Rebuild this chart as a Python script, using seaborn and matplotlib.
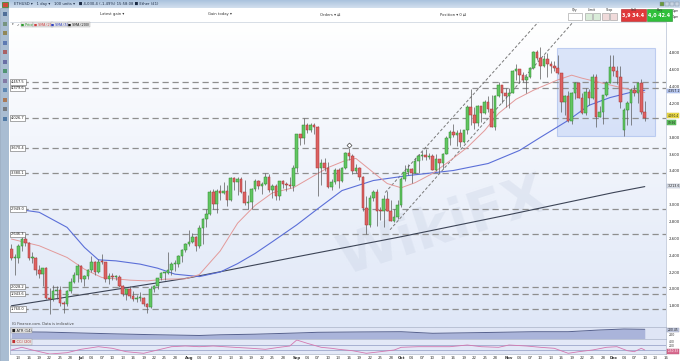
import numpy as np
import pandas as pd
import matplotlib
matplotlib.use("Agg")
import matplotlib.pyplot as plt
import seaborn as sns
from matplotlib.patches import Rectangle
from matplotlib.colors import LinearSegmentedColormap

# ---------------- data (ETH/USD daily, 11 Jun - 10 Dec 2021) ----------------
# (open, high, low, close)
ohlc_jun = [(2470,2530,2340,2370),(2370,2410,2160,2370),(2370,2530,2310,2510),(2510,2610,2450,2590),
            (2590,2640,2510,2550),(2550,2560,2340,2370),(2370,2440,2310,2370),(2370,2380,2170,2230),
            (2230,2280,2130,2180),(2180,2250,2040,2250),(2250,2260,1880,1890),(1890,2010,1700,1875),
            (1875,2050,1860,1970),(1970,2030,1880,1990),(1990,2030,1800,1830),(1830,1860,1720,1815),
            (1815,1990,1800,1975),(1975,2130,1950,2085),(2085,2200,2070,2160),(2160,2290,2080,2275)]
ohlc_jul = [(2275,2280,2080,2115),(2115,2160,2040,2150),(2150,2240,2120,2225),(2225,2390,2200,2320),
            (2320,2330,2160,2200),(2200,2350,2190,2325),(2325,2410,2300,2320),(2320,2320,2080,2115),
            (2115,2190,2060,2150),(2150,2190,2100,2140),(2140,2170,2100,2140),(2140,2160,2020,2035),
            (2035,2050,1920,1940),(1940,2000,1870,1995),(1995,2030,1890,1915),(1915,1970,1860,1875),
            (1875,1930,1850,1895),(1895,1960,1860,1895),(1895,1900,1800,1820),(1820,1830,1720,1785),
            (1785,2040,1770,1995),(1995,2050,1960,2030),(2030,2130,2000,2125),(2125,2200,2110,2190),
            (2190,2200,2110,2190),(2190,2440,2180,2230),(2230,2320,2160,2300),(2300,2340,2210,2300),
            (2300,2400,2260,2385),(2385,2470,2320,2460),(2460,2550,2440,2535)]
ohlc_aug = [(2535,2700,2515,2555),(2555,2665,2540,2610),(2610,2630,2450,2505),(2505,2755,2480,2725),
            (2725,2840,2530,2830),(2830,2950,2730,2890),(2890,3170,2880,3155),(3155,3180,2950,3010),
            (3010,3180,2900,3160),(3160,3230,3060,3140),(3140,3270,3130,3165),(3165,3230,2980,3050),
            (3050,3330,3040,3320),(3320,3330,3170,3270),(3270,3330,3110,3310),(3310,3330,3140,3150),
            (3150,3290,2990,3015),(3015,3120,2950,3030),(3030,3200,2950,3180),(3180,3300,3160,3285),
            (3285,3290,3180,3225),(3225,3270,3130,3240),(3240,3370,3230,3325),(3325,3360,3150,3175),
            (3175,3250,3080,3225),(3225,3250,3060,3100),(3100,3280,3060,3275),(3275,3290,3200,3245),
            (3245,3270,3160,3230),(3230,3330,3200,3225),(3225,3470,3160,3435)]
ohlc_sep = [(3435,3840,3390,3835),(3835,3840,3710,3790),(3790,4030,3725,3940),(3940,3970,3850,3890),
            (3890,3970,3860,3950),(3950,3970,3840,3925),(3925,3935,3100,3430),(3430,3540,3230,3495),
            (3495,3550,3400,3430),(3430,3510,3200,3210),(3210,3300,3170,3270),(3270,3440,3250,3410),
            (3410,3440,3200,3285),(3285,3450,3270,3430),(3430,3620,3420,3610),(3610,3670,3530,3575),
            (3575,3600,3360,3400),(3400,3480,3380,3430),(3430,3450,3290,3330),(3330,3340,2920,2960),
            (2960,3100,2650,2760),(2760,3110,2740,3080),(3080,3175,3040,3155),(3155,3180,2750,2930),
            (2930,2970,2820,2925),(2925,3110,2740,3065),(3065,3160,2920,2930),(2930,3060,2800,2810),
            (2810,2950,2790,2850),(2850,3050,2830,3000)]
ohlc_oct = [(3000,3330,2970,3310),(3310,3465,3275,3390),(3390,3485,3355,3420),(3420,3440,3260,3380),
            (3380,3550,3370,3520),(3520,3600,3380,3580),(3580,3640,3530,3590),(3590,3665,3530,3560),
            (3560,3610,3540,3580),(3580,3600,3410,3415),(3415,3600,3400,3545),(3545,3545,3380,3495),
            (3495,3610,3420,3605),(3605,3820,3600,3790),(3790,3890,3710,3865),(3865,3960,3800,3830),
            (3830,3880,3690,3850),(3850,3900,3680,3745),(3745,3890,3730,3880),(3880,4180,3840,4155),
            (4155,4370,3950,4060),(4060,4160,3900,3970),(3970,4180,3930,4170),(4170,4170,3980,4085),
            (4085,4240,4080,4220),(4220,4290,4100,4130),(4130,4300,3920,3925),(3925,4300,3890,4285),
            (4285,4460,4280,4415),(4415,4420,4210,4325),(4325,4380,4160,4290)]
ohlc_nov = [(4290,4380,4150,4325),(4325,4600,4320,4590),(4590,4665,4480,4605),(4605,4610,4440,4535),
            (4535,4570,4450,4475),(4475,4535,4330,4520),(4520,4630,4505,4620),(4620,4825,4610,4810),
            (4810,4840,4720,4735),(4735,4870,4490,4640),(4640,4780,4630,4730),(4730,4800,4510,4670),
            (4670,4700,4560,4650),(4650,4700,4580,4625),(4625,4770,4545,4560),(4560,4560,4105,4215),
            (4215,4300,4065,4290),(4290,4350,3980,3990),(3990,4335,3960,4320),(4320,4450,4250,4440),
            (4440,4450,4260,4270),(4270,4320,4070,4085),(4085,4380,4065,4340),(4340,4370,4180,4270),
            (4270,4550,4250,4520),(4520,4550,3920,4040),(4040,4170,4040,4095),(4095,4300,3960,4300),
            (4300,4470,4290,4440),(4440,4780,4440,4630)]
ohlc_dec = [(4630,4780,4530,4585),(4585,4640,4430,4512),(4512,4650,4150,4214),(3880,4150,3820,4120),
            (4120,4230,3950,4202),(4202,4380,3940,4357),(4357,4420,4290,4320),(4320,4450,4200,4440),
            (4440,4490,4080,4095),(4095,4230,3990,4030)]

# moving averages (day index, value)
sma20_i = [0, 8, 16, 21, 26, 34, 39, 44, 50, 54, 60, 65, 70, 75, 81, 86, 91, 96, 99, 104, 108, 112,
           116, 121, 126, 131, 136, 140, 145, 150, 152, 157, 161, 164, 170, 176, 182]
sma20_v = [2592, 2512, 2373, 2234, 2135, 2104, 2095, 2115, 2120, 2170, 2450, 2780, 2990, 3140, 3200,
           3320, 3440, 3524, 3548, 3381, 3250, 3200, 3260, 3369, 3520, 3679, 3880, 4083, 4250, 4357,
           4393, 4480, 4536, 4500, 4440, 4380, 4330]
sma50_i = [0, 8, 16, 21, 25, 30, 37, 42, 47, 54, 60, 65, 70, 75, 82, 88, 95, 104, 114, 127, 137, 146,
           152, 160, 166, 172, 178, 182]
sma50_v = [2955, 2909, 2730, 2492, 2345, 2333, 2294, 2246, 2175, 2146, 2200, 2300, 2420, 2560, 2760,
           2950, 3167, 3286, 3345, 3405, 3488, 3643, 3798, 4000, 4179, 4270, 4333, 4357]
sma200_i = [0, 20, 51, 82, 112, 143, 173, 182]
sma200_v = [1800, 1929, 2131, 2381, 2619, 2881, 3143, 3214]

# indicator panels
atr_i = [0, 10, 20, 30, 40, 50, 54, 60, 70, 82, 88, 100, 112, 121, 130, 140, 150, 160, 169, 176, 182]
atr_v = [240, 230, 200, 170, 145, 125, 117, 140, 160, 200, 223, 235, 243, 190, 205, 223, 243, 243,
         300, 333, 323]
cci_i = [0, 3, 6, 11, 16, 20, 25, 29, 33, 38, 42, 46, 50, 54, 58, 64, 69, 73, 77, 80, 82, 85, 89, 92,
         94, 98, 102, 106, 110, 112, 117, 121, 126, 131, 135, 140, 143, 148, 152, 156, 160, 163, 167,
         171, 174, 177, 179, 181, 182]
cci_v = [-90, 18, -90, -250, -198, -62, 42, -22, -158, -222, -90, 42, 70, 42, 70, 18, -22, -62, 18, 70,
         310, 178, 18, -22, -62, -118, -222, -158, -90, 18, 42, 42, 42, 110, 42, 18, 110, 70, 18, -22,
         -222, -158, -90, 18, 42, -118, -158, -22, -90]

# horizontal levels (with their left-hand labels)
levels = [4457.5, 4379.6, 4026.7, 3670.4, 3380.1, 2949.0, 2646.3, 2028.2, 1943.6, 1760.0]
price_ticks = [1800, 2000, 2200, 2400, 2600, 2800, 3000, 3200, 3400, 3600, 3800, 4000, 4200, 4400,
               4600, 4800]
hidden_ticks = [3200, 4000]   # covered by the value tags on the price axis
# trend channel anchors (day index, price)
chan_upper = ([107.4, 151.9], [3143, 5190])
chan_lower = ([108.8, 161.9], [2702, 5190])
# highlighted range box (day from, day to, low, high)
range_box = (156.8, 185.0, 3810, 4857)
alert_point = (97, 3667)

start_date = "2021-06-11"

# ---------------- figure ----------------
sns.set_theme(style="white")
plt.rcParams['font.family'] = ['DejaVu Sans']

W, H = 680, 361
fig = plt.figure(figsize=(6.8, 3.61), dpi=100)
fig.patch.set_facecolor('white')


def axrect(x0, y0, x1, y1):
    return [x0 / W, 1 - y1 / H, (x1 - x0) / W, (y1 - y0) / H]


def P(x, y):
    return (x / W, 1 - y / H)


ohlc = np.array(ohlc_jun + ohlc_jul + ohlc_aug + ohlc_sep + ohlc_oct + ohlc_nov + ohlc_dec, dtype=float)
o, h, l, c = ohlc[:, 0], ohlc[:, 1], ohlc[:, 2], ohlc[:, 3]
n = len(c)
xs = np.arange(n)
XL = (-0.4, 188.1)
YL = (1548, 5167)

# background gradient for price pane
bg = fig.add_axes(axrect(10, 22, 666, 327))
grad = np.linspace(0, 1, 256).reshape(-1, 1)
cm = LinearSegmentedColormap.from_list("g", ["#ffffff", "#dfe7f7"])
bg.imshow(grad, aspect='auto', cmap=cm, extent=[0, 1, 0, 1], origin='upper')
bg.set_axis_off()

ax = fig.add_axes(axrect(10, 22, 666, 327))
ax.set_facecolor('none')
ax.set_xlim(*XL)
ax.set_ylim(*YL)

# watermark
ax.text(0.66, 0.33, "WikiFX", transform=ax.transAxes, fontsize=40, fontweight='bold',
        color='#c9d2e4', alpha=0.35, rotation=18, ha='center', va='center', zorder=0)

# range box
bx0, bx1, by0, by1 = range_box
ax.add_patch(Rectangle((bx0, by0), bx1 - bx0, by1 - by0, facecolor='#c4d4f6', alpha=0.6,
                       edgecolor='#9fb6ea', lw=0.8, zorder=1))

# level lines + labels
for lv in levels:
    ax.hlines(lv, 3.1, XL[1], colors='#8e8e8e', linestyles=(0, (5, 3)), lw=0.9, zorder=2)
    ax.text(-0.1, lv, f"{lv:,.1f}", fontsize=2.6, va='center', ha='left', color='#222',
            bbox=dict(boxstyle='square,pad=0.2', fc='white', ec='#666', lw=0.4), zorder=5)

# channel
ax.plot(*chan_upper, color='#7a7a7a', lw=0.7, ls=(0, (3, 2)), zorder=2)
ax.plot(*chan_lower, color='#7a7a7a', lw=0.7, ls=(0, (3, 2)), zorder=2)

# moving averages
sns.lineplot(x=sma200_i, y=sma200_v, ax=ax, color='#3c4456', lw=0.8, estimator=None, zorder=3)
sns.lineplot(x=sma50_i, y=sma50_v, ax=ax, color='#5b6fd8', lw=0.8, estimator=None, zorder=3)
sns.lineplot(x=sma20_i, y=sma20_v, ax=ax, color='#e39a9a', lw=0.7, estimator=None, zorder=3)

# candles
up = c >= o
bot = np.minimum(o, c)
hgt = np.maximum(np.abs(c - o), 10)
ax.vlines(xs, l, h, colors='#5a5a5a', lw=0.5, zorder=4)
ax.bar(xs[up], hgt[up], bottom=bot[up], width=0.74, color='#62c662', edgecolor='#2f8a2f', lw=0.35, zorder=5)
ax.bar(xs[~up], hgt[~up], bottom=bot[~up], width=0.74, color='#dc6262', edgecolor='#a83434', lw=0.35, zorder=5)

# alert marker
ax.plot([alert_point[0]], [alert_point[1] + 40], marker='D', ms=2.5, mfc='white', mec='#444', mew=0.5, zorder=6)

ax.set_xlabel(''); ax.set_ylabel('')
ax.set_xticks([])
ax.yaxis.tick_right()
ax.set_yticks(price_ticks)
ax.set_yticklabels(["" if t in hidden_ticks else f"{t:,}" for t in price_ticks], fontsize=2.8, color='#333')
ax.tick_params(axis='y', length=0, pad=2)
for s in ['top', 'left', 'bottom']:
    ax.spines[s].set_visible(False)
ax.spines['right'].set_color('#c2cada'); ax.spines['right'].set_linewidth(0.6)


# price-axis highlight tags
def tag(y, txt, fc, ec, tc='#111', fs=2.3):
    fig.text(*P(667.5, y), txt, fontsize=fs, va='center', ha='left', color=tc,
             bbox=dict(boxstyle='square,pad=0.15', fc=fc, ec=ec, lw=0.3))


tag(91, "4,357.2", '#bccbf2', '#8fa6e0')
tag(115.8, "4,030.4", '#f2e14c', '#c6b22a', fs=2.1)
tag(122.8, "09:56", '#66c866', '#3c9a3c', fs=2.1)
tag(186, "3,213.6", '#e4e8f0', '#9aa3b5')

# ---------------- ATR panel ----------------
atr_ax = fig.add_axes(axrect(10, 327, 666, 339))
atr_ax.set_facecolor('#dfe5f5')
atr_ax.fill_between(atr_i, atr_v, 0, color='#aab4da', lw=0)
sns.lineplot(x=atr_i, y=atr_v, ax=atr_ax, color='#56618e', lw=0.7, estimator=None)
atr_ax.set_xlim(*XL); atr_ax.set_ylim(0, 400)
atr_ax.set_xticks([]); atr_ax.yaxis.tick_right()
atr_ax.set_yticks([150]); atr_ax.set_yticklabels(["200"], fontsize=2.3, color='#333')
atr_ax.tick_params(axis='y', length=0, pad=2)
atr_ax.set_xlabel(''); atr_ax.set_ylabel('')
for s in atr_ax.spines.values():
    s.set_color('#aab3c8'); s.set_linewidth(0.5)

# ---------------- CCI panel ----------------
cci_ax = fig.add_axes(axrect(10, 339, 666, 354))
cci_ax.set_facecolor('#e3e8f7')
for lv in (100, -100):
    cci_ax.axhline(lv, color='#8f9ac2', lw=0.5)
sns.lineplot(x=cci_i, y=cci_v, ax=cci_ax, color='#d478b0', lw=0.6, estimator=None)
cci_ax.set_xlim(*XL); cci_ax.set_ylim(-250, 350)
cci_ax.yaxis.tick_right()
cci_ax.set_yticks([250, 100]); cci_ax.set_yticklabels(["400", "200"], fontsize=2.2, color='#333')
cci_ax.tick_params(axis='y', length=0, pad=2)
cci_ax.set_xlabel(''); cci_ax.set_ylabel('')
for s in cci_ax.spines.values():
    s.set_color('#aab3c8'); s.set_linewidth(0.5)

dates = pd.date_range(start_date, periods=190, freq="D")
tpos, tlab = [], []
for k, d in enumerate(dates):
    if d.day == 1:
        tpos.append(k); tlab.append(d.strftime('%b'))
    elif d.day % 3 == 1 and d.day != 31:
        tpos.append(k); tlab.append(f"{d.day:02d}")
cci_ax.set_xticks(tpos)
cci_ax.set_xticklabels(tlab, fontsize=2.8, color='#333')
for t in cci_ax.get_xticklabels():
    if t.get_text().isalpha():
        t.set_fontweight('bold')
cci_ax.tick_params(axis='x', length=0, pad=1.5)

fig.text(*P(667.5, 330), "200.45", fontsize=2.2, va='center', color='#111',
         bbox=dict(boxstyle='square,pad=0.15', fc='#c9d0e6', ec='#8891b0', lw=0.3))
fig.text(*P(667.5, 351.5), "-150.33", fontsize=2.1, va='center', color='white',
         bbox=dict(boxstyle='square,pad=0.15', fc='#d86a8e', ec='#b04a6e', lw=0.3))

# panel captions
fig.text(*P(12, 324), "IG Finance.com. Data is indicative", fontsize=2.6, color='#444', va='center')
fig.text(*P(12, 330.5), "■ ATR (14)", fontsize=2.6, color='#222', va='center',
         bbox=dict(boxstyle='square,pad=0.15', fc='#e6e6e6', ec='#999', lw=0.3))
fig.text(*P(12, 342), "■ CCI (20)", fontsize=2.6, color='#c03030', va='center',
         bbox=dict(boxstyle='square,pad=0.15', fc='#e6e6e6', ec='#999', lw=0.3))

# ---------------- chrome: toolbars and header ----------------
top = fig.add_axes(axrect(0, 0, 680, 8)); top.set_axis_off()
top.imshow(np.linspace(0, 1, 64).reshape(-1, 1), aspect='auto',
           cmap=LinearSegmentedColormap.from_list("t", ["#a9c2de", "#d3e0ee"]), extent=[0, 1, 0, 1])
fig.text(*P(14, 4.2), "ETHUSD ▾   1 day ▾   100 units ▾   ■ 4,030.4 (-1.49%) 15:58:08 ■ Ether (£1)",
         fontsize=2.7, va='center', color='#1a2a44')
fig.patches.append(Rectangle(P(2, 7), 6 / W, 5 / H, transform=fig.transFigure, fc='#d04a3a', ec='#2a8a2a', lw=0.5))
for xx, cc in [(662, '#6a9a3a'), (667, '#c8d4e2'), (672, '#c8d4e2'), (677, '#c8d4e2')]:
    fig.patches.append(Rectangle(P(xx - 2, 6), 4 / W, 4 / H, transform=fig.transFigure, fc=cc, ec='#7a8aa0', lw=0.3))

hdr = fig.add_axes(axrect(10, 8, 680, 22)); hdr.set_axis_off()
hdr.add_patch(Rectangle((0, 0), 1, 1, transform=hdr.transAxes, fc='white', ec='none'))
for xx, txt in [(100, "Latest gain ▾"), (208, "Gain today ▾"), (320, "Orders ▾ ⇄"), (440, "Position ▾ 0 ⇄")]:
    fig.text(*P(xx, 14.5), txt, fontsize=2.7, va='center', color='#333')
# order buttons
for xx, lab in [(575, "Qty"), (592, "Limit"), (609, "Stop")]:
    fig.text(*P(xx, 10), lab, fontsize=2.3, ha='center', va='center', color='#333')
fig.patches.append(Rectangle(P(568, 20), 14 / W, 7 / H, transform=fig.transFigure, fc='white', ec='#999', lw=0.4))
for xx in (585, 593, 602, 610):
    fig.patches.append(Rectangle(P(xx, 20), 7 / W, 7 / H, transform=fig.transFigure,
                                 fc='#d9ecd9' if xx < 600 else '#f0dada', ec='#999', lw=0.4))
fig.patches.append(Rectangle(P(621, 21), 25 / W, 12 / H, transform=fig.transFigure, fc='#e0383a', ec='#a82020', lw=0.4))
fig.patches.append(Rectangle(P(647, 21), 25 / W, 12 / H, transform=fig.transFigure, fc='#2fbf3a', ec='#1e8a26', lw=0.4))
fig.text(*P(633.5, 9.7), "Sell", fontsize=2.3, ha='center', va='center', color='#333')
fig.text(*P(659.5, 9.7), "Buy", fontsize=2.3, ha='center', va='center', color='#333')
fig.text(*P(633.5, 16), "3,9 34.4", fontsize=3.4, ha='center', va='center', color='white', fontweight='bold')
fig.text(*P(659.5, 16), "4,0 42.4", fontsize=3.4, ha='center', va='center', color='white', fontweight='bold')
fig.text(*P(676, 11), "1pm", fontsize=2.0, ha='center', va='center', color='#333')
fig.text(*P(676, 17), "1pm", fontsize=2.0, ha='center', va='center', color='#333')

fig.add_artist(plt.Line2D([10 / W, 666 / W], [1 - 22 / H, 1 - 22 / H], color='#c8d0dc', lw=0.5))

# legend row
leg = [(12, "▾", '#333', None), (16.5, "✓", '#333', None), (21, "■ Price", '#2a9a2a', '#e4e4e4'),
       (33.5, "■ SMA (20)", '#d04040', '#e4e4e4'), (51, "■ SMA (50)", '#3040c0', '#e4e4e4'),
       (68.5, "■ SMA (200)", '#111111', '#e4e4e4')]
for xx, txt, col, fc in leg:
    kw = dict(fontsize=2.3, va='center', color=col)
    if fc:
        kw['bbox'] = dict(boxstyle='square,pad=0.12', fc=fc, ec='#aaa', lw=0.3)
    fig.text(*P(xx, 24.5), txt, **kw)

# left tool strip
side = fig.add_axes(axrect(0, 8, 9, 361)); side.set_axis_off()
side.add_patch(Rectangle((0, 0), 1, 1, transform=side.transAxes, fc='#a9bdd2', ec='#8aa0b8', lw=0.5))
icon_cols = ['#3a5a8a', '#6a8a6a', '#8a7a3a', '#4a6aaa', '#aa4a4a', '#5a5a9a', '#3a8a5a',
             '#7a6a9a', '#4a7aaa', '#aa6a3a', '#6a6a6a', '#3a6a9a']
for k, cc in enumerate(icon_cols):
    yy = 14 + k * 9.5
    fig.patches.append(Rectangle(P(2.5, yy + 2), 4 / W, 4 / H, transform=fig.transFigure, fc=cc, ec='none', alpha=0.8))

fig.savefig("out.png", dpi=100, facecolor=fig.get_facecolor())
